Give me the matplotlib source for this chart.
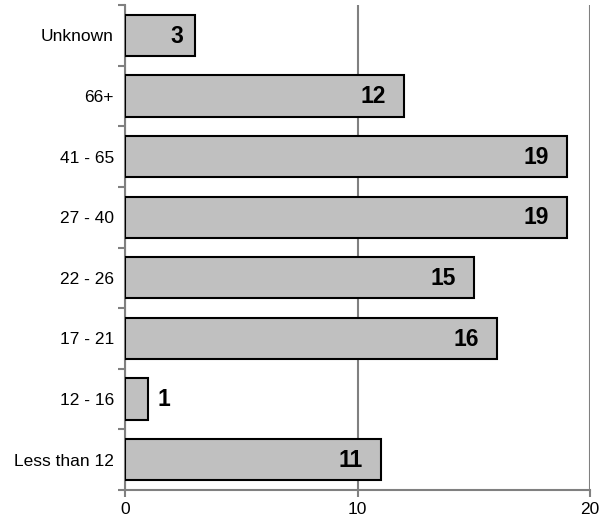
import matplotlib.pyplot as plt

categories = ["Less than 12", "12 - 16", "17 - 21", "22 - 26", "27 - 40", "41 - 65", "66+", "Unknown"]
values = [11, 1, 16, 15, 19, 19, 12, 3]
xticks = [0, 10, 20]

plt.rcParams['font.family'] = ['Liberation Sans', 'DejaVu Sans']

fig = plt.figure(figsize=(6.13, 5.22), dpi=100)
ax = fig.add_axes([125 / 613, 32 / 522, 465 / 613, 485 / 522])

pos = list(range(len(categories)))
bars = ax.barh(pos, values, height=0.68, color="#c0c0c0", edgecolor="black", linewidth=1.5, zorder=3)

# labels sit inside the bar end, except for bars too short to hold them
for p, v in zip(pos, values):
    label = str(v)
    if v >= 2:
        gap = 8.5 + 4.5 * (len(label) - 1)
        ax.annotate(label, (v, p), xytext=(-gap, -0.5), textcoords="offset points",
                    ha="right", va="center", fontsize=16.5, fontweight="bold", zorder=4)
    else:
        ax.annotate(label, (v, p), xytext=(6.5, -0.5), textcoords="offset points",
                    ha="left", va="center", fontsize=16.5, fontweight="bold", zorder=4)

ax.set_xlim(0, 20)
ax.set_ylim(-0.5, len(categories) - 0.5)
ax.set_xticks(xticks)
ax.set_xticklabels([str(t) for t in xticks], fontsize=12.5)
ax.set_yticks(pos)
ax.set_yticklabels(categories, fontsize=12.5)
ax.set_yticks([p - 0.5 for p in pos] + [len(pos) - 0.5], minor=True)
ax.tick_params(axis="y", which="major", length=0, pad=8)
ax.tick_params(axis="y", which="minor", length=5, color="#808080", width=1.5)
ax.tick_params(axis="x", length=5, color="#808080", width=1.5, pad=4)

ax.grid(axis="x", color="#808080", linewidth=1.5, zorder=0)
for s in ["top", "right"]:
    ax.spines[s].set_visible(False)
for s in ["left", "bottom"]:
    ax.spines[s].set_color("#808080")
    ax.spines[s].set_linewidth(1.5)

fig.savefig("out.png", dpi=100)
